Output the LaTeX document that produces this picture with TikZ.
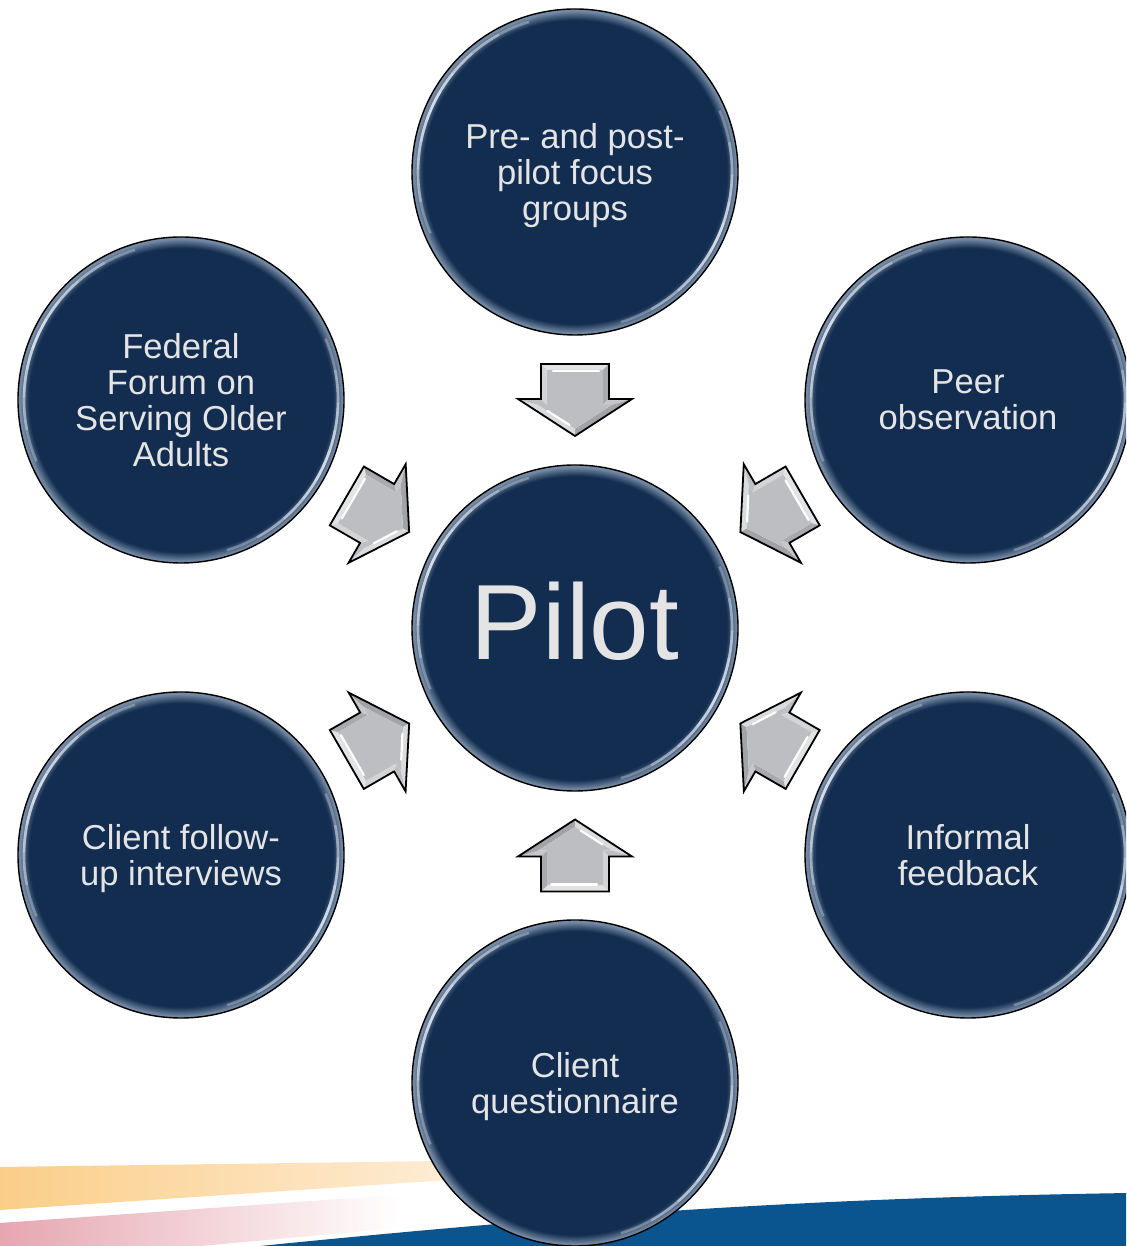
\documentclass[tikz,border=0pt]{standalone}
\usepackage{fontspec}
\setmainfont{Liberation Sans}
\usetikzlibrary{calc}

\definecolor{discnavy}{HTML}{122D50}
\definecolor{rimblue}{HTML}{7489A3}
\definecolor{labelgray}{HTML}{E4E4E4}
\definecolor{bandblue}{HTML}{0A548F}
\definecolor{stripeorange}{HTML}{FBCE88}
\definecolor{stripeorangelight}{HTML}{FEEEDA}
\definecolor{stripepink}{HTML}{E6A6B0}
\definecolor{glint}{HTML}{EEF4FB}

% dark disc with a soft light rim just inside the outline
\pgfdeclareradialshading{bubblerim}{\pgfpoint{0bp}{0bp}}{%
  color(0bp)=(discnavy); color(23.3bp)=(discnavy);
  color(24.7bp)=(rimblue); color(25bp)=(rimblue); color(50bp)=(rimblue)}

\tikzset{
  bubble/.style={circle, draw=black, line width=1.4pt, shade, shading=bubblerim,
    minimum size=326pt, inner sep=0pt, text=labelgray, align=center,
    text depth=0pt, font=\fontsize{34.6}{36}\selectfont},
  gloss/.style={glint, opacity=0.3, line width=2.6pt},
  % bevelled block arrow pointing along +x, centred on the origin
  bevelarrow/.pic={
    \fill[fill={rgb,255:red,226;green,227;blue,229}] (-36,-34) -- (-36,34) -- (-30,28) -- (-30,-28) -- cycle;
    \fill[fill={rgb,255:red,168;green,169;blue,173}] (-36,34) -- (-1,34) -- (5,28) -- (-30,28) -- cycle;
    \fill[fill={rgb,255:red,198;green,199;blue,202}] (-1,34) -- (-1,57) -- (5,36.7) -- (5,28) -- cycle;
    \fill[fill={rgb,255:red,162;green,163;blue,167}] (-1,57) -- (36,0) -- (28.8,0) -- (5,36.7) -- cycle;
    \fill[fill={rgb,255:red,218;green,219;blue,221}] (36,0) -- (-1,-57) -- (5,-36.7) -- (28.8,0) -- cycle;
    \fill[fill={rgb,255:red,190;green,191;blue,194}] (-1,-57) -- (-1,-34) -- (5,-28) -- (5,-36.7) -- cycle;
    \fill[fill={rgb,255:red,211;green,212;blue,214}] (-1,-34) -- (-36,-34) -- (-30,-28) -- (5,-28) -- cycle;
    \fill[fill={rgb,255:red,189;green,190;blue,194}] (-30,28) -- (5,28) -- (5,36.7) -- (28.8,0)
      -- (5,-36.7) -- (5,-28) -- (-30,-28) -- cycle;
    \draw[white, line width=2.2pt, line cap=round] (-29,-22) -- (-29,24);
    \draw[white, line width=2.2pt, line cap=round] (11,-27.5) -- (25,-5.5);
    \draw[black, line width=1.8pt, line join=miter] (-36,34) -- (-1,34) -- (-1,57) -- (36,0)
      -- (-1,-57) -- (-1,-34) -- (-36,-34) -- cycle;
  }
}

\begin{document}
\begin{tikzpicture}[x=1pt, y=1pt]
\useasboundingbox (0,0) rectangle (1126,1246);
\clip (0,0) rectangle (1126,1246);

% decorative stripes along the bottom edge
\shade[left color=stripeorange, right color=stripeorangelight]
  (0,79) -- (480,85.5) -- (480,68) -- (0,36) -- cycle;
\shade[left color=stripepink, right color=white]
  (0,23) -- (400,51.3) -- (400,18) -- (200,0) -- (0,0) -- cycle;
\fill[bandblue] (260,0) .. controls (560,30) and (800,48) .. (1130,53) -- (1130,0) -- cycle;

% discs
\node[bubble] (top) at (575,1074) {Pre- and post-\\pilot focus\\groups};
\node[bubble] (ul) at (181,846) {Federal\\Forum on\\Serving Older\\Adults};
\node[bubble] (ur) at (968,846) {Peer\\observation};
\node[bubble, font=\fontsize{107}{110}\selectfont, text depth=14pt] (pilot) at (575,618) {Pilot};
\node[bubble] (ll) at (181,391) {Client follow-\\up interviews};
\node[bubble] (lr) at (968,391) {Informal\\feedback};
\node[bubble] (bottom) at (575,163) {Client\\questionnaire};

% glossy highlights on opposite sides of each rim
\foreach \src in {top,ul,ur,pilot,ll,lr,bottom}{
  \foreach \s in {6,14,24,36,48}{
    \draw[gloss] ($(\src.center)+({155-\s}:157)$) arc[start angle={155-\s}, end angle={155+\s}, radius=157];
    \draw[gloss] ($(\src.center)+({-25-\s}:157)$) arc[start angle={-25-\s}, end angle={-25+\s}, radius=157];
  }
}

% block arrows converging on the centre disc
\foreach \src in {top,ul,ur,ll,lr,bottom}{
  \path let \p1=($(pilot.center)-(\src.center)$), \n1={atan2(\y1,\x1)} in
    pic[rotate=\n1] at ($(\src.center)!0.5!(pilot.center)$) {bevelarrow};
}
\end{tikzpicture}
\end{document}
